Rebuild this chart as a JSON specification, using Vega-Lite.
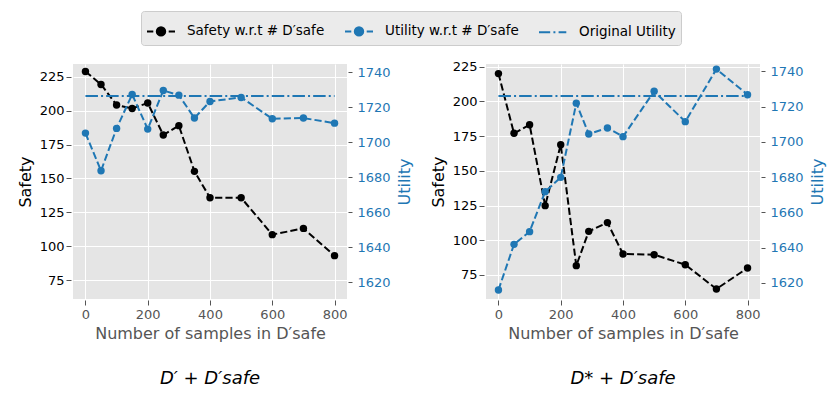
{
  "$schema": "https://vega.github.io/schema/vega-lite/v6.json",
  "background": "white",
  "autosize": {"type": "pad"},
  "padding": {"left": 17, "top": 10, "right": 5, "bottom": 5},
  "bounds": "flush",
  "spacing": 139,
  "data": {"values": [
    {"panel": "A", "series": "Safety w.r.t # D′safe", "n": 0, "value": 228.9},
    {"panel": "A", "series": "Safety w.r.t # D′safe", "n": 50, "value": 219.3},
    {"panel": "A", "series": "Safety w.r.t # D′safe", "n": 100, "value": 204.1},
    {"panel": "A", "series": "Safety w.r.t # D′safe", "n": 150, "value": 201.6},
    {"panel": "A", "series": "Safety w.r.t # D′safe", "n": 200, "value": 205.6},
    {"panel": "A", "series": "Safety w.r.t # D′safe", "n": 250, "value": 182.0},
    {"panel": "A", "series": "Safety w.r.t # D′safe", "n": 300, "value": 188.9},
    {"panel": "A", "series": "Safety w.r.t # D′safe", "n": 350, "value": 155.2},
    {"panel": "A", "series": "Safety w.r.t # D′safe", "n": 400, "value": 135.7},
    {"panel": "A", "series": "Safety w.r.t # D′safe", "n": 500, "value": 135.7},
    {"panel": "A", "series": "Safety w.r.t # D′safe", "n": 600, "value": 108.5},
    {"panel": "A", "series": "Safety w.r.t # D′safe", "n": 700, "value": 113.1},
    {"panel": "A", "series": "Safety w.r.t # D′safe", "n": 800, "value": 93.0},
    {"panel": "A", "series": "Utility w.r.t # D′safe", "n": 0, "value": 1705.3},
    {"panel": "A", "series": "Utility w.r.t # D′safe", "n": 50, "value": 1683.8},
    {"panel": "A", "series": "Utility w.r.t # D′safe", "n": 100, "value": 1708.0},
    {"panel": "A", "series": "Utility w.r.t # D′safe", "n": 150, "value": 1727.4},
    {"panel": "A", "series": "Utility w.r.t # D′safe", "n": 200, "value": 1707.6},
    {"panel": "A", "series": "Utility w.r.t # D′safe", "n": 250, "value": 1729.7},
    {"panel": "A", "series": "Utility w.r.t # D′safe", "n": 300, "value": 1727.0},
    {"panel": "A", "series": "Utility w.r.t # D′safe", "n": 350, "value": 1713.9},
    {"panel": "A", "series": "Utility w.r.t # D′safe", "n": 400, "value": 1723.4},
    {"panel": "A", "series": "Utility w.r.t # D′safe", "n": 500, "value": 1725.7},
    {"panel": "A", "series": "Utility w.r.t # D′safe", "n": 600, "value": 1713.5},
    {"panel": "A", "series": "Utility w.r.t # D′safe", "n": 700, "value": 1713.9},
    {"panel": "A", "series": "Utility w.r.t # D′safe", "n": 800, "value": 1711.0},
    {"panel": "A", "series": "Original Utility", "n": 0, "value": 1726.5},
    {"panel": "A", "series": "Original Utility", "n": 800, "value": 1726.5},
    {"panel": "B", "series": "Safety w.r.t # D′safe", "n": 0, "value": 220.0},
    {"panel": "B", "series": "Safety w.r.t # D′safe", "n": 50, "value": 177.0},
    {"panel": "B", "series": "Safety w.r.t # D′safe", "n": 100, "value": 183.2},
    {"panel": "B", "series": "Safety w.r.t # D′safe", "n": 150, "value": 124.9},
    {"panel": "B", "series": "Safety w.r.t # D′safe", "n": 200, "value": 168.8},
    {"panel": "B", "series": "Safety w.r.t # D′safe", "n": 250, "value": 81.7},
    {"panel": "B", "series": "Safety w.r.t # D′safe", "n": 290, "value": 106.4},
    {"panel": "B", "series": "Safety w.r.t # D′safe", "n": 350, "value": 112.7},
    {"panel": "B", "series": "Safety w.r.t # D′safe", "n": 400, "value": 90.1},
    {"panel": "B", "series": "Safety w.r.t # D′safe", "n": 500, "value": 89.6},
    {"panel": "B", "series": "Safety w.r.t # D′safe", "n": 600, "value": 82.4},
    {"panel": "B", "series": "Safety w.r.t # D′safe", "n": 700, "value": 64.9},
    {"panel": "B", "series": "Safety w.r.t # D′safe", "n": 800, "value": 80.0},
    {"panel": "B", "series": "Utility w.r.t # D′safe", "n": 0, "value": 1616.0},
    {"panel": "B", "series": "Utility w.r.t # D′safe", "n": 50, "value": 1641.9},
    {"panel": "B", "series": "Utility w.r.t # D′safe", "n": 100, "value": 1649.1},
    {"panel": "B", "series": "Utility w.r.t # D′safe", "n": 150, "value": 1671.8},
    {"panel": "B", "series": "Utility w.r.t # D′safe", "n": 200, "value": 1679.9},
    {"panel": "B", "series": "Utility w.r.t # D′safe", "n": 250, "value": 1722.0},
    {"panel": "B", "series": "Utility w.r.t # D′safe", "n": 290, "value": 1704.5},
    {"panel": "B", "series": "Utility w.r.t # D′safe", "n": 350, "value": 1707.9},
    {"panel": "B", "series": "Utility w.r.t # D′safe", "n": 400, "value": 1703.0},
    {"panel": "B", "series": "Utility w.r.t # D′safe", "n": 500, "value": 1728.7},
    {"panel": "B", "series": "Utility w.r.t # D′safe", "n": 600, "value": 1711.5},
    {"panel": "B", "series": "Utility w.r.t # D′safe", "n": 700, "value": 1741.3},
    {"panel": "B", "series": "Utility w.r.t # D′safe", "n": 800, "value": 1726.8},
    {"panel": "B", "series": "Original Utility", "n": 0, "value": 1726.0},
    {"panel": "B", "series": "Original Utility", "n": 800, "value": 1726.0}
  ]},
  "hconcat": [
    {
      "width": 274,
      "height": 235,
      "title": {"text": "D′ + D′safe", "orient": "bottom", "anchor": "middle", "frame": "group", "fontSize": 18, "fontStyle": "italic", "fontWeight": "normal", "color": "#000000", "offset": 29},
      "transform": [{"filter": "datum.panel === 'A'"}],
      "encoding": {
        "x": {"field": "n", "type": "quantitative", "scale": {"domain": [-40, 840], "nice": false, "zero": false},
              "axis": {"values": [0, 200, 400, 600, 800], "title": "Number of samples in D′safe", "labelColor": "#555555", "titleColor": "#555555", "tickSize": 5, "labelPadding": 3, "titlePadding": 4, "offset": 1}},
        "color": {"field": "series", "type": "nominal",
                  "scale": {"domain": ["Safety w.r.t # D′safe", "Utility w.r.t # D′safe", "Original Utility"], "range": ["#000000", "#1f77b4", "#1f77b4"]},
                  "legend": {"title": null, "orient": "none", "legendX": 68, "legendY": -53, "direction": "horizontal",
                             "fillColor": "#EBEBEB", "strokeColor": "#CCCCCC", "cornerRadius": 3, "padding": 5,
                             "labelFontSize": 13.5, "labelColor": "#000000", "labelOffset": 11, "columnPadding": 16,
                             "symbolSize": 784, "symbolStrokeWidth": 2,
                             "encode": {"symbols": {"update": {
                               "shape": {"signal": "datum.value === 'Original Utility' ? 'M-1,0L-0.2,0M0.03,0L0.17,0M0.4,0L0.95,0' : 'M-1,0L-0.55,0M0.55,0L1,0M-0.3,0A0.3,0.3,0,1,1,0.3,0A0.3,0.3,0,1,1,-0.3,0Z'"},
                               "fill": {"signal": "datum.value === 'Original Utility' ? 'transparent' : (indexof(datum.value, 'Safety') === 0 ? '#000000' : '#1f77b4')"},
                               "stroke": {"signal": "indexof(datum.value, 'Safety') === 0 ? '#000000' : '#1f77b4'"},
                               "strokeWidth": {"value": 2},
                               "strokeDash": {"value": []},
                               "opacity": {"value": 1}
                             }}}}}
      },
      "layer": [
        {
          "transform": [{"filter": "datum.series === 'Safety w.r.t # D′safe'"}],
          "encoding": {"y": {"field": "value", "type": "quantitative", "scale": {"domain": [61, 234.4], "nice": false, "zero": false},
                             "axis": {"orient": "left", "values": [75, 100, 125, 150, 175, 200, 225], "title": "Safety", "labelColor": "#000000", "titleColor": "#000000", "tickSize": 5, "labelPadding": 2, "titlePadding": 6, "offset": 2}}},
          "layer": [
            {"mark": {"type": "line", "strokeWidth": 2, "strokeDash": [7.2, 3.1]}},
            {"mark": {"type": "circle", "size": 55, "opacity": 1}}
          ]
        },
        {
          "transform": [{"filter": "datum.series !== 'Safety w.r.t # D′safe'"}],
          "encoding": {"y": {"field": "value", "type": "quantitative", "scale": {"domain": [1610.5, 1744.8], "nice": false, "zero": false},
                             "axis": {"orient": "right", "values": [1620, 1640, 1660, 1680, 1700, 1720, 1740], "format": "d", "title": "Utility", "titleAngle": 270, "titleBaseline": "top", "labelColor": "#1f77b4", "titleColor": "#1f77b4", "tickSize": 4, "labelPadding": 5, "titlePadding": 6, "offset": 1}}},
          "layer": [
            {"mark": {"type": "line", "strokeWidth": 2},
             "encoding": {"strokeDash": {"field": "series", "type": "nominal", "legend": null,
                                         "scale": {"domain": ["Utility w.r.t # D′safe", "Original Utility"], "range": [[7.2, 3.1], [12.5, 3.1, 2, 3.1]]}}}},
            {"transform": [{"filter": "datum.series === 'Utility w.r.t # D′safe'"}],
             "mark": {"type": "circle", "size": 55, "opacity": 1}}
          ]
        }
      ],
      "resolve": {"scale": {"y": "independent"}}
    },
    {
      "width": 274,
      "height": 235,
      "title": {"text": "D* + D′safe", "orient": "bottom", "anchor": "middle", "frame": "group", "fontSize": 18, "fontStyle": "italic", "fontWeight": "normal", "color": "#000000", "offset": 29},
      "transform": [{"filter": "datum.panel === 'B'"}],
      "encoding": {
        "x": {"field": "n", "type": "quantitative", "scale": {"domain": [-40, 840], "nice": false, "zero": false},
              "axis": {"values": [0, 200, 400, 600, 800], "title": "Number of samples in D′safe", "labelColor": "#555555", "titleColor": "#555555", "tickSize": 5, "labelPadding": 3, "titlePadding": 4, "offset": 1}},
        "color": {"field": "series", "type": "nominal",
                  "scale": {"domain": ["Safety w.r.t # D′safe", "Utility w.r.t # D′safe", "Original Utility"], "range": ["#000000", "#1f77b4", "#1f77b4"]}}
      },
      "layer": [
        {
          "transform": [{"filter": "datum.series === 'Safety w.r.t # D′safe'"}],
          "encoding": {"y": {"field": "value", "type": "quantitative", "scale": {"domain": [57.7, 226.9], "nice": false, "zero": false},
                             "axis": {"orient": "left", "values": [75, 100, 125, 150, 175, 200, 225], "title": "Safety", "labelColor": "#000000", "titleColor": "#000000", "tickSize": 5, "labelPadding": 2, "titlePadding": 6, "offset": 2}}},
          "layer": [
            {"mark": {"type": "line", "strokeWidth": 2, "strokeDash": [7.2, 3.1]}},
            {"mark": {"type": "circle", "size": 55, "opacity": 1}}
          ]
        },
        {
          "transform": [{"filter": "datum.series !== 'Safety w.r.t # D′safe'"}],
          "encoding": {"y": {"field": "value", "type": "quantitative", "scale": {"domain": [1610.9, 1744.2], "nice": false, "zero": false},
                             "axis": {"orient": "right", "values": [1620, 1640, 1660, 1680, 1700, 1720, 1740], "format": "d", "title": "Utility", "titleAngle": 270, "titleBaseline": "top", "labelColor": "#1f77b4", "titleColor": "#1f77b4", "tickSize": 4, "labelPadding": 5, "titlePadding": 6, "offset": 1}}},
          "layer": [
            {"mark": {"type": "line", "strokeWidth": 2},
             "encoding": {"strokeDash": {"field": "series", "type": "nominal", "legend": null,
                                         "scale": {"domain": ["Utility w.r.t # D′safe", "Original Utility"], "range": [[7.2, 3.1], [12.5, 3.1, 2, 3.1]]}}}},
            {"transform": [{"filter": "datum.series === 'Utility w.r.t # D′safe'"}],
             "mark": {"type": "circle", "size": 55, "opacity": 1}}
          ]
        }
      ],
      "resolve": {"scale": {"y": "independent"}}
    }
  ],
  "resolve": {"scale": {"color": "shared", "strokeDash": "shared"}, "legend": {"color": "shared"}},
  "config": {
    "font": "DejaVu Sans",
    "view": {"fill": "#E5E5E5", "stroke": null},
    "axis": {"domain": false, "grid": true, "gridColor": "#FFFFFF", "gridWidth": 1, "tickColor": "#555555", "labelFontSize": 13, "titleFontSize": 16, "titleFontWeight": "normal"}
  }
}
